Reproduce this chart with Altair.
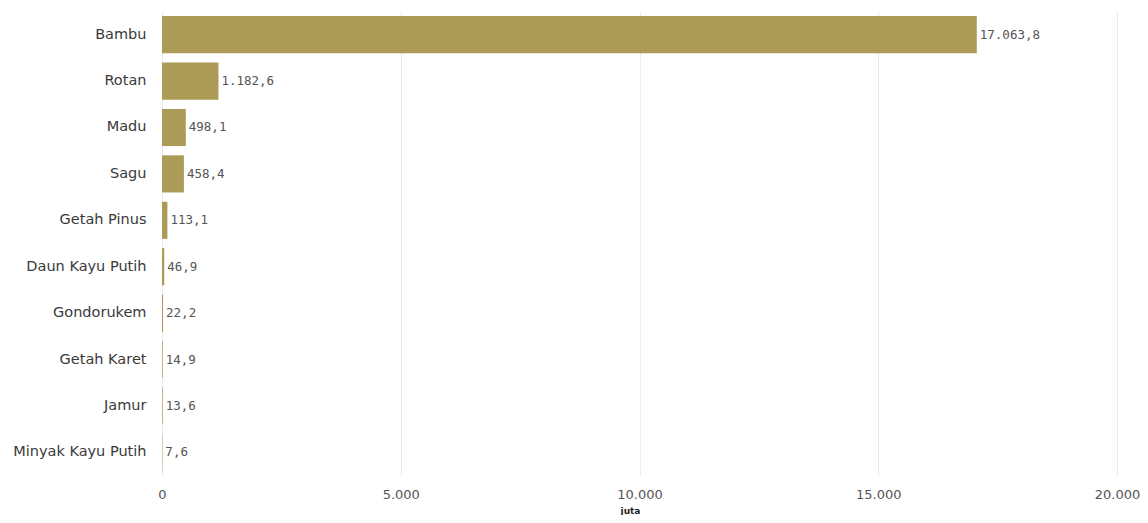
import altair as alt
import pandas as pd

categories = ["Bambu", "Rotan", "Madu", "Sagu", "Getah Pinus", "Daun Kayu Putih",
              "Gondorukem", "Getah Karet", "Jamur", "Minyak Kayu Putih"]
values = [17063.8, 1182.6, 498.1, 458.4, 113.1, 46.9, 22.2, 14.9, 13.6, 7.6]
labels = ["17.063,8", "1.182,6", "498,1", "458,4", "113,1", "46,9", "22,2", "14,9", "13,6", "7,6"]
ticks = [0, 5000, 10000, 15000, 20000]

df = pd.DataFrame({"kategori": categories, "nilai": values, "label": labels})

x = alt.X("nilai:Q", title="juta",
          scale=alt.Scale(domain=[0, 20000], nice=False),
          axis=alt.Axis(values=ticks, labelExpr="replace(format(datum.value, ',.0f'), ',', '.')",
                        domain=False, ticks=False, grid=True, gridColor="#ececec",
                        labelColor="#555", labelFontSize=13, labelPadding=12,
                        labelFont="DejaVu Sans", labelFlush=False,
                        titleFontSize=9, titleFontWeight="bold", titleColor="#222",
                        titleFont="DejaVu Sans", titleX=468, titleY=39,
                        titleAlign="center", titleBaseline="bottom"))
y = alt.Y("kategori:N", sort=categories, title=None,
          scale=alt.Scale(paddingInner=0.2, paddingOuter=0.11),
          axis=alt.Axis(domain=False, ticks=False, labelPadding=16, labelFontSize=14.5,
                        labelColor="#3a3a3a", labelFont="DejaVu Sans"))

bars = alt.Chart(df).mark_bar(color="#ab9b56").encode(x=x, y=y)
text = alt.Chart(df).mark_text(align="left", dx=3, fontSize=12.5, color="#555",
                               font="DejaVu Sans Mono").encode(
    x="nilai:Q", y=alt.Y("kategori:N", sort=categories), text="label:N")

chart = (bars + text).properties(
    width=955, height=465,
    autosize=alt.AutoSizeParams(type="none"),
    padding={"left": 154, "top": 3, "right": 23, "bottom": 39},
).configure_view(stroke=None)

chart.save("out.html", embed_options={"renderer": "svg", "actions": False})
